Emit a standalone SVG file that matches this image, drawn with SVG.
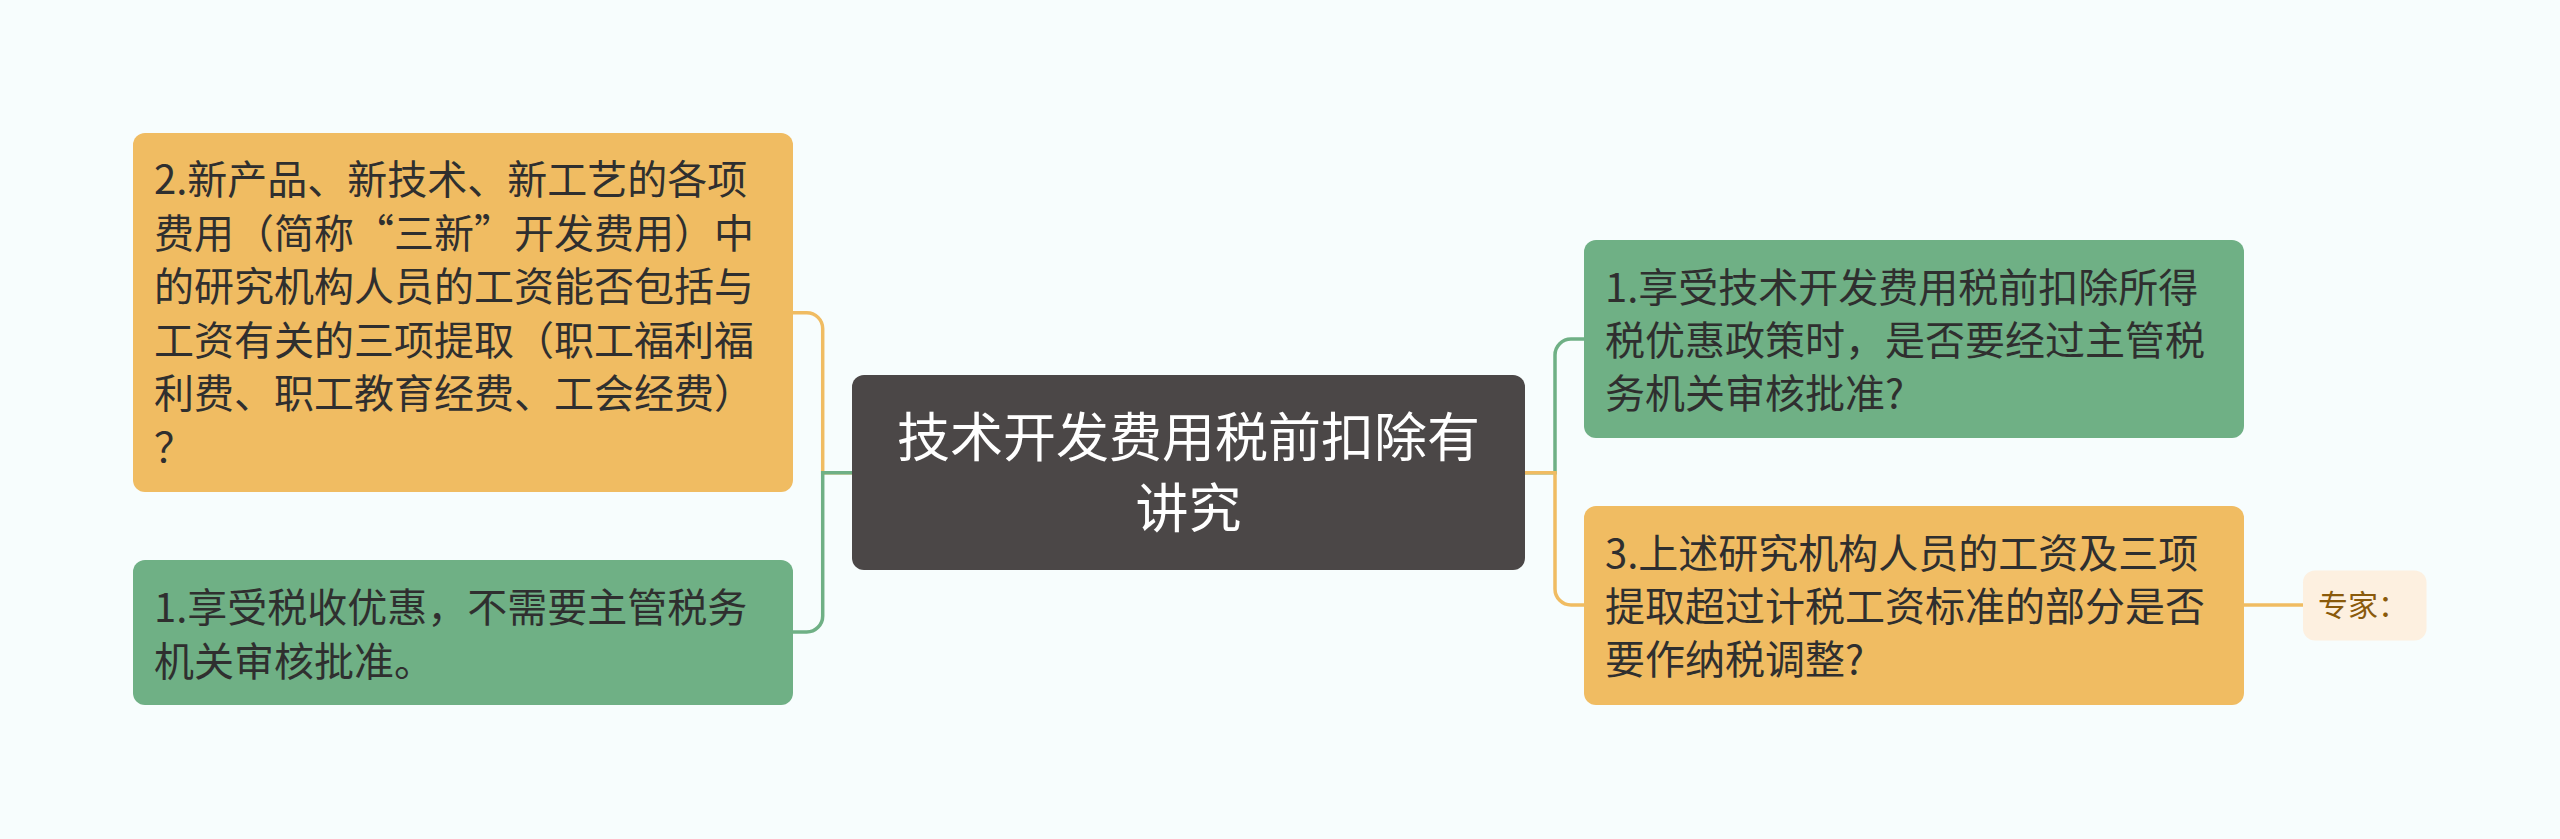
<svg xmlns="http://www.w3.org/2000/svg" width="2560" height="839" viewBox="0 0 2560 839">
<style>
.t{font-family:"Noto Sans CJK SC","Liberation Sans",sans-serif;font-size:40px;fill:#2f2f2f}
.r{font-family:"Noto Sans CJK SC","Liberation Sans",sans-serif;font-size:53px;fill:#ffffff;text-anchor:middle}
.s{font-family:"Noto Sans CJK SC","Liberation Sans",sans-serif;font-size:30px;fill:#8a5a0b}
.og{fill:#f0bc62}
.gn{fill:#6fb085}
.lo{fill:none;stroke:#f0bc62;stroke-width:3.5}
.lg{fill:none;stroke:#6fb085;stroke-width:3.5}
</style>
<rect width="2560" height="839" fill="#f7fdfd"/>
<g id="connectors">
<path class="lo" d="M852,472.7 H822.7 V328.7 A16,16 0 0 0 806.7,312.7 H793"/>
<path class="lg" d="M852,472.7 H822.7 V616 A16,16 0 0 1 806.7,632 H793"/>
<path class="lg" d="M1525,472.7 H1555 V355 A16,16 0 0 1 1571,339 H1584"/>
<path class="lo" d="M1525,472.7 H1555 V589 A16,16 0 0 0 1571,605 H1584"/>
<path class="lo" d="M2244,605 H2303"/>
</g>
<g id="root">
<rect x="852" y="375" width="673" height="195" rx="12" fill="#4b4747"/>
<text class="r" x="1188.5" y="457">技术开发费用税前扣除有</text>
<text class="r" x="1188.5" y="528">讲究</text>
</g>
<g id="left1">
<rect class="og" x="133" y="133" width="660" height="359" rx="12"/>
<text class="t" x="154" y="194">2.新产品、新技术、新工艺的各项</text>
<text class="t" x="154" y="247.5">费用（简称“三新”开发费用）中</text>
<text class="t" x="154" y="301">的研究机构人员的工资能否包括与</text>
<text class="t" x="154" y="354.5">工资有关的三项提取（职工福利福</text>
<text class="t" x="154" y="408">利费、职工教育经费、工会经费）</text>
<text class="t" x="154" y="461.5">？</text>
</g>
<g id="left2">
<rect class="gn" x="133" y="560" width="660" height="145" rx="12"/>
<text class="t" x="154" y="622">1.享受税收优惠，不需要主管税务</text>
<text class="t" x="154" y="676">机关审核批准。</text>
</g>
<g id="right1">
<rect class="gn" x="1584" y="240" width="660" height="198" rx="12"/>
<text class="t" x="1605" y="302">1.享受技术开发费用税前扣除所得</text>
<text class="t" x="1605" y="355">税优惠政策时，是否要经过主管税</text>
<text class="t" x="1605" y="408">务机关审核批准?</text>
</g>
<g id="right2">
<rect class="og" x="1584" y="506" width="660" height="199" rx="12"/>
<text class="t" x="1605" y="568">3.上述研究机构人员的工资及三项</text>
<text class="t" x="1605" y="621">提取超过计税工资标准的部分是否</text>
<text class="t" x="1605" y="674">要作纳税调整?</text>
</g>
<g id="expert">
<rect x="2303" y="570.5" width="123.5" height="70" rx="12" fill="#fdf0e0"/>
<text class="s" x="2318" y="616">专家：</text>
</g>
</svg>
